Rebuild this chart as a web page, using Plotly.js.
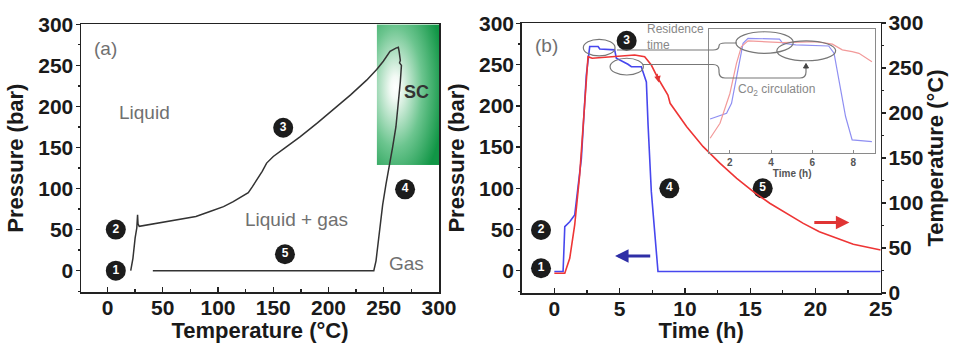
<!DOCTYPE html>
<html><head><meta charset="utf-8">
<script src="https://cdn.plot.ly/plotly-3.0.1.min.js"></script>
<style>html,body{margin:0;padding:0;background:#fff}#plot{width:953px;height:343px}</style>
</head><body><div id="plot"></div>
<script>
// ---- Panel (a): P-T path ----
const tempA = [21, 23, 25, 26.5, 27.2, 27.6, 28.7, 45, 62.5, 80, 92.7, 105, 113.8, 122, 127.4, 131, 134.9, 140, 144, 150, 160, 174.2, 190, 204.3, 220, 234.5, 243.6, 249.6, 255.7, 261, 263.2, 264, 265, 264.3, 266, 265, 263, 261, 258, 255, 252, 249, 246, 243, 241, 41];
const presA = [0, 15, 40, 52, 68, 57, 54, 58, 62, 66, 72, 78, 84, 90, 95, 102, 110, 121, 131, 139, 149, 163, 180, 196, 214, 232, 245, 255, 267, 271, 272, 266, 256, 253, 250, 230, 200, 175, 150, 129, 105, 80, 48, 12, 0, 0];

// ---- Panel (b): pressure and temperature vs time ----
const timeP = [0, 0.67, 0.8, 1.18, 1.56, 2.07, 2.45, 2.63, 2.71, 3.35, 3.48, 4.62, 4.75, 5.64, 5.9, 6.66, 6.8, 7.05, 7.18, 7.43, 7.94, 25];
const presB = [-1, -1, 53.5, 59.5, 67.6, 136, 237.5, 268, 272, 272, 269, 268, 258, 250.5, 247.6, 247.6, 241.5, 229, 177, 96, -1, -1];
const timeT = [0, 0.8, 1.18, 1.56, 1.94, 2.2, 2.45, 2.58, 2.9, 4.62, 6.15, 6.92, 7.43, 7.94, 8.32, 8.7, 8.87, 10.14, 11.4, 12.7, 13.97, 15.24, 16.5, 17.8, 19.07, 20.3, 21.6, 22.9, 25];
const tempB = [21.9, 21.9, 38.6, 75.6, 131, 186.7, 242, 262.6, 260.8, 262.6, 264.4, 262.6, 253.3, 238.6, 229, 220, 210.8, 184.8, 162.6, 144, 127.4, 112.6, 99.7, 88.6, 77.4, 68.1, 60.8, 54.1, 47.8];

// ---- Inset (zoom of 1-9 h) ----
const insetTimeP = [1.04, 1.84, 2.08, 2.4, 2.64, 2.88, 4.41, 4.57, 5.2, 6.8, 7.06, 7.3, 7.62, 7.94, 8.9];
const insetPres  = [191, 198, 210, 250.5, 283, 289, 288, 283, 281, 279.7, 271, 238, 194, 165.5, 163.5];
const insetTimeT = [1.04, 1.52, 2.0, 2.32, 2.56, 2.88, 4.57, 6.18, 6.98, 7.46, 7.94, 8.27, 8.9];
const insetTemp  = [167.6, 185.8, 222, 258.7, 278.9, 286, 283.7, 285, 282, 275, 272.8, 270.8, 260.6];

// ---- labels ----
const stepLabels = ['1', '2', '3', '4', '5'];
const stepT_a = [7.5, 7.5, 159, 269.3, 160.6];
const stepP_a = [0, 50, 174, 99, 20];
const stepTime_b = [-1.02, -1.02, 5.54, 8.81, 15.96];
const stepP_b = [3, 49.4, 279, 100, 100];
const tickValsA = [0, 50, 100, 150, 200, 250, 300];
const tickValsTime = [0, 5, 10, 15, 20, 25];
const tickValsInset = [2, 4, 6, 8];

const W = 953, H = 343;
const fx = p => p / W, fy = p => 1 - p / H;
const pt = (x, y) => fx(x).toFixed(5) + ',' + fy(y).toFixed(5);

const FONT = 'Liberation Sans, Arial, sans-serif';
const bold = (s, c) => ({family: FONT, size: s, color: c || '#1a1a1a', weight: 'bold'});
const reg = (s, c) => ({family: FONT, size: s, color: c || '#707070'});

const traces = [
  {x: tempA, y: presA, xaxis: 'x', yaxis: 'y', mode: 'lines', line: {color: '#333', width: 1.5}},
  {x: stepT_a, y: stepP_a, xaxis: 'x', yaxis: 'y', mode: 'markers+text', text: stepLabels, textposition: 'middle center',
   textfont: bold(12, '#ffffff'), marker: {size: 20, color: '#1c1c1c'}},
  {x: timeP, y: presB, xaxis: 'x2', yaxis: 'y2', mode: 'lines', line: {color: '#4747ee', width: 1.6}},
  {x: timeT, y: tempB, xaxis: 'x2', yaxis: 'y3', mode: 'lines', line: {color: '#ee3535', width: 1.6}},
  {x: stepTime_b, y: stepP_b, xaxis: 'x2', yaxis: 'y2', mode: 'markers+text', text: stepLabels, textposition: 'middle center',
   textfont: bold(12, '#ffffff'), marker: {size: 20, color: '#1c1c1c'}},
  {x: insetTimeP, y: insetPres, xaxis: 'x4', yaxis: 'y4', mode: 'lines', line: {color: '#8f8ff2', width: 1.2}},
  {x: insetTimeT, y: insetTemp, xaxis: 'x4', yaxis: 'y5', mode: 'lines', line: {color: '#f29a9a', width: 1.2}}
];

const svg = "<svg xmlns='http://www.w3.org/2000/svg' width='100' height='100' viewBox='0 0 100 100' preserveAspectRatio='none'>" +
  "<defs><radialGradient id='g' cx='0.3' cy='0.45' r='0.78'>" +
  "<stop offset='0' stop-color='#ffffff'/><stop offset='0.1' stop-color='#f3faf5'/>" +
  "<stop offset='0.55' stop-color='#6cc58f'/><stop offset='1' stop-color='#119646'/></radialGradient></defs>" +
  "<rect width='100' height='100' fill='url(#g)'/></svg>";

const axBase = {showline: true, linecolor: '#222', linewidth: 1.5, zeroline: false, showgrid: false,
  tickcolor: '#222', tickwidth: 1.3, tickfont: bold(21)};

const layout = {
  width: W, height: H, margin: {l: 0, r: 0, t: 0, b: 0},
  paper_bgcolor: '#fff', plot_bgcolor: 'rgba(0,0,0,0)', showlegend: false,
  xaxis: Object.assign({}, axBase, {domain: [fx(81), fx(439)], range: [-24, 300], anchor: 'y', tickvals: tickValsA,
    ticks: 'inside', ticklen: 5, mirror: true, ticklabelstandoff: -4,
    minor: {dtick: 25, tick0: 0, ticks: 'inside', ticklen: 3, tickcolor: '#222'},
    title: {text: 'Temperature (°C)', font: bold(22), standoff: 13}}),
  yaxis: Object.assign({}, axBase, {domain: [fy(292), fy(24.3)], range: [-26, 300], anchor: 'x', tickvals: tickValsA,
    ticks: 'outside', ticklen: 4, mirror: true, ticklabelstandoff: -2,
    minor: {dtick: 25, tick0: 0, ticks: 'outside', ticklen: 2, tickcolor: '#222'},
    title: {text: 'Pressure (bar)', font: bold(22), standoff: 8}}),
  xaxis2: Object.assign({}, axBase, {domain: [fx(521.7), fx(880.7)], range: [-2.5, 25], anchor: 'y2', tickvals: tickValsTime,
    ticks: 'inside', ticklen: 5, mirror: true, ticklabelstandoff: -4,
    minor: {dtick: 2.5, tick0: 0, ticks: 'inside', ticklen: 3, tickcolor: '#222'},
    title: {text: 'Time (h)', font: bold(22), standoff: 13}}),
  yaxis2: Object.assign({}, axBase, {domain: [fy(293), fy(23)], range: [-27, 300.6], anchor: 'x2', tickvals: tickValsA,
    ticks: 'outside', ticklen: 4, ticklabelstandoff: -2,
    minor: {dtick: 25, tick0: 0, ticks: 'outside', ticklen: 2, tickcolor: '#222'},
    title: {text: 'Pressure (bar)', font: bold(22), standoff: 8}}),
  yaxis3: Object.assign({}, axBase, {overlaying: 'y2', side: 'right', range: [0, 300], anchor: 'x2', tickvals: tickValsA,
    ticks: 'outside', ticklen: 4, ticklabelstandoff: -2,
    minor: {dtick: 25, tick0: 0, ticks: 'outside', ticklen: 2, tickcolor: '#222'},
    title: {text: 'Temperature (°C)', font: bold(22), standoff: 0}}),
  xaxis4: {domain: [fx(709.3), fx(875)], range: [1, 9.05], anchor: 'y4', tickvals: tickValsInset, showline: true, mirror: true,
    linecolor: '#8a8a8a', linewidth: 1.2, ticks: 'inside', ticklen: 3, tickcolor: '#8a8a8a', showgrid: false, zeroline: false,
    tickfont: bold(10, '#555'), title: {text: 'Time (h)', font: bold(10, '#555'), standoff: 1}},
  yaxis4: {domain: [fy(152.7), fy(29.3)], range: [150, 300], anchor: 'x4', showline: true, mirror: true, linecolor: '#8a8a8a',
    linewidth: 1.2, showticklabels: false, ticks: '', showgrid: false, zeroline: false},
  yaxis5: {overlaying: 'y4', anchor: 'x4', range: [150, 300], visible: false},
  images: [{source: 'data:image/svg+xml;charset=utf-8,' + encodeURIComponent(svg), xref: 'x', yref: 'y',
    x: 243.6, y: 300, sizex: 56.7, sizey: 171.3, sizing: 'stretch', xanchor: 'left', yanchor: 'top', layer: 'below'}],
  shapes: [
    {type: 'circle', xref: 'x2', yref: 'y2', x0: 2.22, x1: 4.65, y0: 260.6, y1: 280.8, line: {color: '#777', width: 1.2}},
    {type: 'circle', xref: 'x2', yref: 'y2', x0: 4.27, x1: 6.82, y0: 237.5, y1: 257.8, line: {color: '#777', width: 1.2}},
    {type: 'circle', xref: 'x4', yref: 'y4', x0: 2.29, x1: 5.08, y0: 270.8, y1: 297, line: {color: '#777', width: 1.2}},
    {type: 'circle', xref: 'x4', yref: 'y4', x0: 4.28, x1: 7.14, y0: 261.8, y1: 286, line: {color: '#777', width: 1.2}},
    {type: 'path', xref: 'paper', yref: 'paper', line: {color: '#777', width: 1.2},
     path: `M ${pt(617,50)} L ${pt(713,50)} Q ${pt(719,50)} ${pt(719,46)} Q ${pt(719,43)} ${pt(725,43)} L ${pt(737,43)}`},
    {type: 'path', xref: 'paper', yref: 'paper', line: {color: '#777', width: 1.2},
     path: `M ${pt(643,64.5)} L ${pt(713,64.5)} Q ${pt(719,64.5)} ${pt(719,70)} L ${pt(719,72)} Q ${pt(719,78)} ${pt(725,78)} L ${pt(800,78)} Q ${pt(806,78)} ${pt(806,72)} L ${pt(806,67)}`},
    {type: 'path', xref: 'paper', yref: 'paper', line: {color: '#444', width: 1}, fillcolor: '#444',
     path: `M ${pt(803.5,68)} L ${pt(806,63.5)} L ${pt(808.5,68)} Z`}
  ],
  annotations: [
    {xref: 'x', yref: 'y', x: -1.5, y: 271, text: '(a)', showarrow: false, font: reg(19)},
    {xref: 'x', yref: 'y', x: 33.8, y: 192.4, text: 'Liquid', showarrow: false, font: reg(19)},
    {xref: 'x', yref: 'y', x: 171, y: 61.8, text: 'Liquid + gas', showarrow: false, font: reg(19)},
    {xref: 'x', yref: 'y', x: 270.8, y: 9, text: 'Gas', showarrow: false, font: reg(19)},
    {xref: 'x', yref: 'y', x: 280, y: 218, text: 'SC', showarrow: false, font: bold(18, '#333')},
    {xref: 'x2', yref: 'y2', x: -0.58, y: 273, text: '(b)', showarrow: false, font: reg(19)},
    {xref: 'paper', yref: 'paper', x: fx(645), y: fy(36.5), xanchor: 'left', yanchor: 'middle', align: 'left',
     text: 'Residence<br>time', showarrow: false, font: reg(12, '#888')},
    {xref: 'paper', yref: 'paper', x: fx(776.7), y: fy(90), xanchor: 'center', yanchor: 'middle',
     text: 'Co<sub>2</sub> circulation', showarrow: false, font: reg(12, '#888')},
    {xref: 'x2', yref: 'y2', axref: 'x2', ayref: 'y2', x: 4.65, y: 18, ax: 7.46, ay: 18, text: '', showarrow: true,
     arrowhead: 2, arrowsize: 0.9, arrowwidth: 3, arrowcolor: '#2e2ea6'},
    {xref: 'x2', yref: 'y2', axref: 'x2', ayref: 'y2', x: 22.6, y: 58.4, ax: 19.8, ay: 58.4, text: '', showarrow: true,
     arrowhead: 2, arrowsize: 0.9, arrowwidth: 3, arrowcolor: '#e03434'},
    {xref: 'x2', yref: 'y3', x: 8.0, y: 234, ax: -2, ay: -10, text: '', showarrow: true,
     arrowhead: 2, arrowsize: 1, arrowwidth: 1.3, arrowcolor: '#e03434'}
  ]
};

Plotly.newPlot('plot', traces, layout, {staticPlot: true, displayModeBar: false});
</script></body></html>
